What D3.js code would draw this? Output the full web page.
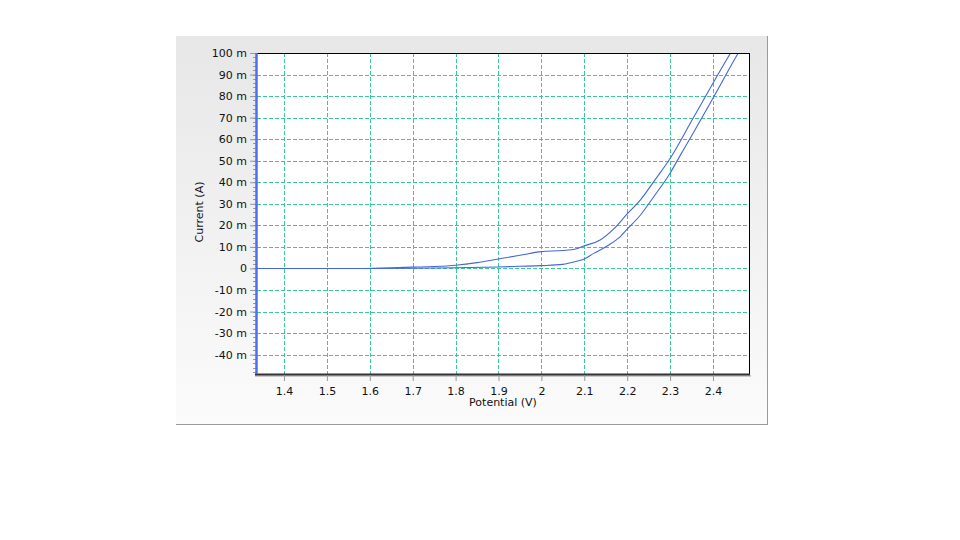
<!DOCTYPE html>
<html>
<head>
<meta charset="utf-8">
<script src="https://d3js.org/d3.v7.min.js"></script>
<style>
  body { margin: 0; background: #fff; }
  text { font-family: "DejaVu Sans", Verdana, sans-serif; font-size: 11px; fill: #111; }
</style>
</head>
<body>
<div id="chart"></div>
<script>
// forward scan (lower branch), potential in V, current in mA
var fwdV = [1.337, 1.6, 1.7, 1.8, 1.9, 1.95, 2.0, 2.05, 2.08, 2.1, 2.122, 2.153, 2.184, 2.2, 2.231, 2.262, 2.3, 2.322, 2.35, 2.4, 2.459, 2.465]
var fwdI = [0, 0, 0.1, 0.3, 0.7, 1.0, 1.3, 1.9, 3.2, 4.4, 7, 10.4, 14.8, 18.2, 24.8, 33.3, 44.2, 51.9, 61.5, 79, 100, 102]
// reverse scan (upper branch), listed from low to high potential
var revV = [1.59, 1.65, 1.7, 1.75, 1.8, 1.85, 1.9, 1.95, 2.0, 2.05, 2.08, 2.1, 2.137, 2.168, 2.2, 2.231, 2.262, 2.3, 2.35, 2.4, 2.441, 2.447]
var revI = [0, 0.3, 0.6, 0.9, 1.5, 2.7, 4.4, 6.1, 7.8, 8.3, 9, 10.5, 13.2, 18.2, 25.3, 31.8, 40.3, 51, 68.4, 86, 100, 102]

var xTicks = [1.4, 1.5, 1.6, 1.7, 1.8, 1.9, 2.0, 2.1, 2.2, 2.3, 2.4]
var yTicks = [-40, -30, -20, -10, 0, 10, 20, 30, 40, 50, 60, 70, 80, 90, 100]
var yMinor = d3.range(-48, 101, 2)

var width = 960, height = 540
var plot = {left: 257, right: 749, top: 53, bottom: 374}

var svg = d3.select("#chart").append("svg")
  .attr("width", width).attr("height", height)

// panel background
var defs = svg.append("defs")
var grad = defs.append("linearGradient").attr("id", "bg")
  .attr("x1", 0).attr("y1", 0).attr("x2", 0).attr("y2", 1)
grad.append("stop").attr("offset", "0%").attr("stop-color", "#e7e7e7")
grad.append("stop").attr("offset", "100%").attr("stop-color", "#fbfbfb")
defs.append("clipPath").attr("id", "clip").append("rect")
  .attr("x", plot.left).attr("y", plot.top)
  .attr("width", plot.right - plot.left).attr("height", plot.bottom - plot.top)

svg.append("rect").attr("x", 176).attr("y", 36).attr("width", 591).attr("height", 388)
  .attr("fill", "url(#bg)")
svg.append("line").attr("x1", 767.5).attr("x2", 767.5).attr("y1", 36).attr("y2", 425)
  .attr("stroke", "#9a9a9a")
svg.append("line").attr("x1", 176).attr("x2", 768).attr("y1", 424.5).attr("y2", 424.5)
  .attr("stroke", "#9a9a9a")

var x = d3.scaleLinear().domain([1.337, 2.484]).range([plot.left, plot.right])
var y = d3.scaleLinear().domain([-49, 100]).range([plot.bottom, plot.top])

svg.append("rect").attr("x", plot.left).attr("y", plot.top)
  .attr("width", plot.right - plot.left).attr("height", plot.bottom - plot.top)
  .attr("fill", "#fff")

// grid
svg.append("g").selectAll("line").data(xTicks).join("line")
  .attr("x1", d => Math.round(x(d)) + 0.5).attr("x2", d => Math.round(x(d)) + 0.5)
  .attr("y1", plot.top).attr("y2", plot.bottom)
  .attr("stroke", "#3cc797").attr("stroke-dasharray", "4,2")
svg.append("g").selectAll("line").data(yTicks.filter(d => d < 100)).join("line")
  .attr("x1", plot.left).attr("x2", plot.right)
  .attr("y1", d => Math.round(y(d)) + 0.5).attr("y2", d => Math.round(y(d)) + 0.5)
  .attr("stroke", "#3cc797").attr("stroke-dasharray", "4,2")

// curves
var line = d3.line().curve(d3.curveMonotoneX).x(d => x(d[0])).y(d => y(d[1]))
var g = svg.append("g").attr("clip-path", "url(#clip)")
g.append("path").datum(d3.zip(fwdV, fwdI)).attr("d", line)
  .attr("fill", "none").attr("stroke", "#4466dd").attr("stroke-width", 1.1)
g.append("path").datum(d3.zip(revV, revI)).attr("d", line)
  .attr("fill", "none").attr("stroke", "#4466dd").attr("stroke-width", 1.1)

// frame
svg.append("line").attr("x1", plot.left).attr("x2", plot.right + 1).attr("y1", plot.top + 0.5).attr("y2", plot.top + 0.5)
  .attr("stroke", "#000")
svg.append("line").attr("x1", plot.right + 0.5).attr("x2", plot.right + 0.5).attr("y1", plot.top).attr("y2", plot.bottom)
  .attr("stroke", "#000")
svg.append("line").attr("x1", plot.left - 2).attr("x2", plot.right + 2).attr("y1", plot.bottom + 2).attr("y2", plot.bottom + 2)
  .attr("stroke", "#bbb").attr("stroke-width", 1.5)
svg.append("line").attr("x1", plot.left - 2).attr("x2", plot.right + 1).attr("y1", plot.bottom + 0.5).attr("y2", plot.bottom + 0.5)
  .attr("stroke", "#333").attr("stroke-width", 2)

// y axis
var yAxis = d3.axisLeft(y).tickValues(yTicks).tickSize(6).tickPadding(3)
  .tickFormat(d => d === 0 ? "0" : d + " m")
var ya = svg.append("g").attr("transform", "translate(" + (plot.left - 1) + ",0)").call(yAxis)
ya.select(".domain").remove()
ya.selectAll(".tick line").attr("stroke", "#999")
ya.selectAll(".tick text").style("fill", "#111")
svg.append("g").selectAll("line").data(yMinor).join("line")
  .attr("x1", plot.left - 4).attr("x2", plot.left - 1)
  .attr("y1", d => Math.round(y(d)) + 0.5).attr("y2", d => Math.round(y(d)) + 0.5)
  .attr("stroke", "#999")
svg.append("line").attr("x1", plot.left - 0.5).attr("x2", plot.left - 0.5)
  .attr("y1", plot.top).attr("y2", plot.bottom)
  .attr("stroke", "#4a6ff0").attr("stroke-width", 2.5)

// x axis
var xAxis = d3.axisBottom(x).tickValues(xTicks).tickSize(6).tickPadding(6)
  .tickFormat(d => d === 2 ? "2" : d3.format(".1f")(d))
var xa = svg.append("g").attr("transform", "translate(0," + (plot.bottom + 1) + ")").call(xAxis)
xa.select(".domain").remove()
xa.selectAll(".tick line").attr("stroke", "#999")
xa.selectAll(".tick text").style("fill", "#111")

// titles
svg.append("text").attr("x", 503).attr("y", 406).attr("text-anchor", "middle").text("Potential (V)")
svg.append("text").attr("transform", "translate(203,212) rotate(-90)")
  .attr("text-anchor", "middle").text("Current (A)")
</script>
</body>
</html>
